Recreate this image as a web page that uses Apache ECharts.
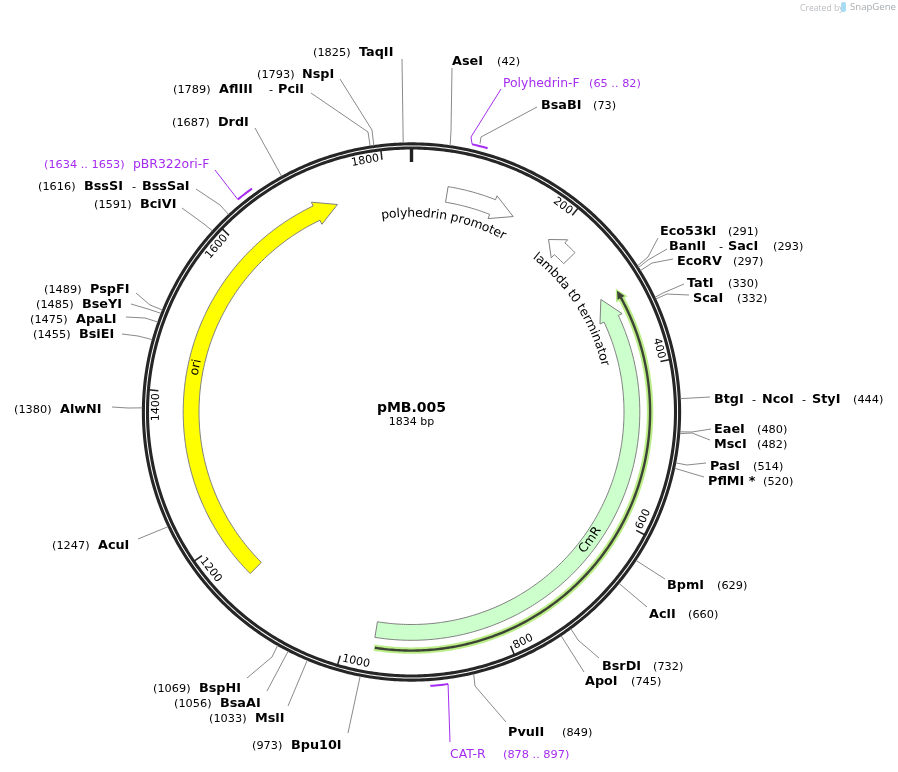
<!DOCTYPE html>
<html>
<head>
<meta charset="utf-8">
<title>pMB.005</title>
<script src="https://cdn.jsdelivr.net/npm/echarts@6/dist/echarts.min.js"></script>
<style>
html,body{margin:0;padding:0;background:#fff}
#main{width:898px;height:772px}
</style>
</head>
<body>
<div id="main"></div>
<script>
// plasmid data, all in bp
var plasmidName = 'pMB.005';
var plasmidSize = 1834;
var tickValues = [200, 400, 600, 800, 1000, 1200, 1400, 1600, 1800];

var siteNames = ['AseI', 'BsaBI', 'Eco53kI', 'BanII - SacI', 'EcoRV', 'TatI', 'ScaI', 'BtgI - NcoI - StyI',
  'EaeI', 'MscI', 'PasI', 'PflMI *', 'BpmI', 'AclI', 'BsrDI', 'ApoI', 'PvuII', 'Bpu10I', 'MslI', 'BsaAI',
  'BspHI', 'AcuI', 'AlwNI', 'BsiEI', 'ApaLI', 'BseYI', 'PspFI', 'BciVI', 'BssSI - BssSaI', 'DrdI',
  'AflIII - PciI', 'NspI', 'TaqII'];
var sitePositions = [42, 73, 291, 293, 297, 330, 332, 444, 480, 482, 514, 520, 629, 660, 732, 745, 849, 973,
  1033, 1056, 1069, 1247, 1380, 1455, 1475, 1485, 1489, 1591, 1616, 1687, 1789, 1793, 1825];

var primerNames = ['Polyhedrin-F', 'CAT-R', 'pBR322ori-F'];
var primerStarts = [65, 878, 1634];
var primerEnds = [82, 897, 1653];

// from = tail, back = where the head begins, to = tip
var featureNames = ['polyhedrin promoter', 'lambda t0 terminator', 'CmR', 'ori'];
var featureFrom = [47, 233, 964, 1146];
var featureBack = [110, 215, 331, 1704];
var featureTo = [140, 196, 302, 1734];

var orfFrom = 962;
var orfBack = 313;
var orfTo = 303;

// layout only below
var cx = 411.5, cy = 412;
var ringOuter = 268.1, ringInner = 264;
var bodyIn = 212.5, bodyOut = 228.3, headIn = 208, headOut = 232.5, laneMid = 220.3;
var orfR = 238.6;
var primerR = 274.5;
var featureFills = ['#ffffff', '#ffffff', '#ccffcc', '#ffff00'];
var featureLabelR = [198.5, 199, 220, 220];
var featureLabelAt = [49, 292, 640, 1435];
var purple = '#a52cf0';
var ink = '#000';
var lineGray = '#8a8a8a';
var textDy = 1;

// x of each name part, x of each dash, x of the number, y, optional knee, far end of the leader
var siteLayout = {
  'AseI': {x: [452], num: 497, y: 61, knee: [451, 131], end: [452, 68]},
  'BsaBI': {x: [541], num: 593, y: 105, startR: 277, knee: [481, 137], end: [537, 107]},
  'Eco53kI': {x: [660], num: 728, y: 231, knee: [648, 257], end: [658, 238]},
  'BanII - SacI': {x: [669, 728], dash: [719], num: 773, y: 246, knee: [648, 260], end: [667, 249]},
  'EcoRV': {x: [677], num: 733, y: 261, knee: [652, 263], end: [673, 259]},
  'TatI': {x: [687], num: 728, y: 283, knee: [663, 293], end: [684, 284]},
  'ScaI': {x: [693], num: 737, y: 298, knee: [667, 294], end: [689, 295]},
  'BtgI - NcoI - StyI': {x: [714, 762, 812], dash: [752, 802], num: 853, y: 399, end: [710, 397]},
  'EaeI': {x: [714], num: 757, y: 429, knee: [692, 432], end: [711, 429]},
  'MscI': {x: [714], num: 757, y: 444, knee: [692, 433], end: [710, 440]},
  'PasI': {x: [710], num: 753, y: 466, knee: [687, 465], end: [706, 463]},
  'PflMI *': {x: [708], num: 763, y: 481, end: [704, 477]},
  'BpmI': {x: [667], num: 717, y: 585, end: [665, 579]},
  'AclI': {x: [649], num: 688, y: 614, end: [647, 607]},
  'BsrDI': {x: [602], num: 653, y: 666, knee: [578, 640], end: [599, 658]},
  'ApoI': {x: [585], num: 631, y: 681, end: [584, 672]},
  'PvuII': {x: [508], num: 562, y: 732, knee: [475, 686], end: [506, 722]},
  'Bpu10I': {x: [291], num: 252, y: 745, end: [348, 733]},
  'MslI': {x: [255], num: 209, y: 718, end: [288, 706]},
  'BsaAI': {x: [220], num: 174, y: 703, end: [267, 691]},
  'BspHI': {x: [199], num: 153, y: 688, knee: [272, 657], end: [247, 678]},
  'AcuI': {x: [98], num: 52, y: 545, end: [138, 539]},
  'AlwNI': {x: [60], num: 14, y: 409, knee: [128, 408], end: [112, 407]},
  'BsiEI': {x: [79], num: 33, y: 334, knee: [138, 336], end: [122, 334]},
  'ApaLI': {x: [76], num: 30, y: 319, knee: [145, 318], end: [126, 317]},
  'BseYI': {x: [82], num: 36, y: 304, knee: [148, 309], end: [131, 304]},
  'PspFI': {x: [90], num: 44, y: 289, knee: [150, 305], end: [136, 293]},
  'BciVI': {x: [140], num: 94, y: 204, knee: [204, 224], end: [182, 208]},
  'BssSI - BssSaI': {x: [84, 142], dash: [132], num: 38, y: 186, knee: [220, 205], end: [196, 189]},
  'DrdI': {x: [218], num: 172, y: 122, end: [255, 128]},
  'AflIII - PciI': {x: [219, 278], dash: [269], num: 173, y: 89, knee: [368, 132], end: [311, 93]},
  'NspI': {x: [302], num: 257, y: 74, knee: [372, 130], end: [340, 79]},
  'TaqII': {x: [359], num: 313, y: 52, end: [402, 59]}
};
// leaders start at the primer bar's end given by `from`
var primerLayout = {
  'Polyhedrin-F': {x: 503, num: 589, y: 83, from: 65, knee: [471, 137], end: [501, 89]},
  'CAT-R': {x: 450, num: 503, y: 754, from: 878, end: [450, 742]},
  'pBR322ori-F': {x: 133, num: 44, y: 164, from: 1634, end: [215, 170]}
};

var nameFont = 'bold 12.8px "DejaVu Sans"';
var numFont = '11.3px "DejaVu Sans"';
var primerFont = '12.4px "DejaVu Sans"';
var arcFont = '12.4px "DejaVu Sans"';

function arc(api, r, a, b) {
  var pts = [];
  var n = Math.max(2, Math.ceil(Math.abs(b - a) / 3));
  for (var i = 0; i <= n; i++) {
    pts.push(api.coord([r, a + (b - a) * i / n]));
  }
  return pts;
}

function arrowShape(api, from, back, to, rIn, rOut, hIn, hOut, rMid) {
  return arc(api, rOut, from, back)
    .concat([api.coord([hOut, back]), api.coord([rMid, to]), api.coord([hIn, back])])
    .concat(arc(api, rIn, back, from));
}

function textEl(str, x, y, font, color, align) {
  return {
    type: 'text', x: x, y: y + textDy, silent: true,
    style: {text: str, x: 0, y: 0, font: font, fill: color, align: align || 'left', verticalAlign: 'middle'}
  };
}

function leader(pts, color, width) {
  return {type: 'polyline', silent: true, shape: {points: pts}, style: {stroke: color, lineWidth: width || 1, fill: null}};
}

var measureCtx = document.createElement('canvas').getContext('2d');

// one text element per glyph, tops facing outward on the upper arcs
function curvedText(api, str, r, midBp, font, flip) {
  measureCtx.font = font;
  var total = measureCtx.measureText(str).width;
  var bpPerPx = plasmidSize / (2 * Math.PI * r);
  var out = [];
  var run = 0;
  for (var i = 0; i < str.length; i++) {
    var w = measureCtx.measureText(str.charAt(i)).width;
    var off = (run + w / 2 - total / 2) * bpPerPx;
    var bp = midBp + (flip ? -off : off);
    var deg = bp / plasmidSize * 360;
    var p = api.coord([r, bp]);
    var el = textEl(str.charAt(i), p[0], p[1] - textDy, font, ink, 'center');
    el.rotation = -(flip ? deg - 180 : deg) * Math.PI / 180;
    out.push(el);
    run += w;
  }
  return out;
}

function renderRing(params, api) {
  return {
    type: 'group',
    children: [
      leader(arc(api, ringOuter, 0, plasmidSize), '#262626', 3.1),
      leader(arc(api, ringInner, 0, plasmidSize), '#262626', 3.1),
      leader([api.coord([ringInner, 0]), api.coord([250, 0])], '#222', 3.4)
    ]
  };
}

function renderTick(params, api) {
  var v = api.value(0);
  var labelBp = v - (v >= 1000 ? 19 : 15);
  var labelDeg = labelBp / plasmidSize * 360;
  var p = api.coord([255.5, labelBp]);
  var flip = labelDeg > 90 && labelDeg < 270;
  var t = textEl(String(v), p[0], p[1] - textDy, '11px "DejaVu Sans"', ink, 'center');
  t.rotation = -(flip ? labelDeg - 180 : labelDeg) * Math.PI / 180;
  return {
    type: 'group',
    children: [leader([api.coord([ringInner, v]), api.coord([254, v])], '#222', 1.5), t]
  };
}

function renderFeature(params, api) {
  var i = params.dataIndex;
  var name = featureNames[i];
  var shape = arrowShape(api, api.value(0), api.value(1), api.value(2), bodyIn, bodyOut, headIn, headOut, laneMid);
  var flip = name === 'CmR';
  var kids = [{
    type: 'polygon', silent: true, shape: {points: shape},
    style: {fill: featureFills[i], stroke: '#808080', lineWidth: 1}
  }];
  if (name === 'ori') {
    var p = api.coord([featureLabelR[i], featureLabelAt[i]]);
    var t = textEl(name, p[0], p[1] - textDy, arcFont, ink, 'center');
    t.rotation = -(featureLabelAt[i] / plasmidSize * 360) * Math.PI / 180;
    kids.push(t);
  } else {
    kids = kids.concat(curvedText(api, name, featureLabelR[i], featureLabelAt[i], arcFont, flip));
  }
  return {type: 'group', children: kids};
}

function renderOrf(params, api) {
  var from = api.value(0), back = api.value(1), to = api.value(2);
  var glow = arrowShape(api, from + 1, back + 2, to - 3, orfR - 3.2, orfR + 3.2, orfR - 6.5, orfR + 6.5, orfR);
  var core = arrowShape(api, from, back, to, orfR - 1.2, orfR + 1.2, orfR - 4, orfR + 4, orfR);
  return {
    type: 'group',
    children: [
      {type: 'polygon', silent: true, shape: {points: glow}, style: {fill: '#bcee88', stroke: null}},
      {type: 'polygon', silent: true, shape: {points: core}, style: {fill: '#3d4436', stroke: null}}
    ]
  };
}

function renderSite(params, api) {
  var name = siteNames[params.dataIndex];
  var bp = api.value(0);
  var lay = siteLayout[name];
  var pts = [api.coord([lay.startR || ringOuter + 1, bp])];
  if (lay.knee) pts.push(lay.knee);
  pts.push(lay.end);
  var kids = [leader(pts, lineGray, 1)];
  name.split(' - ').forEach(function (part, k) {
    kids.push(textEl(part, lay.x[k], lay.y, nameFont, ink));
  });
  (lay.dash || []).forEach(function (x) {
    kids.push(textEl('-', x, lay.y, numFont, ink));
  });
  kids.push(textEl('(' + bp + ')', lay.num, lay.y, numFont, ink));
  return {type: 'group', children: kids};
}

function renderPrimer(params, api) {
  var name = primerNames[params.dataIndex];
  var a = api.value(0), b = api.value(1);
  var lay = primerLayout[name];
  var pts = [api.coord([primerR, lay.from])];
  if (lay.knee) pts.push(lay.knee);
  pts.push(lay.end);
  return {
    type: 'group',
    children: [
      leader(arc(api, primerR, a, b), purple, 2),
      leader(pts, purple, 1),
      textEl(name, lay.x, lay.y, primerFont, purple),
      textEl('(' + a + ' .. ' + b + ')', lay.num, lay.y, numFont, purple)
    ]
  };
}

function zipRows() {
  var cols = Array.prototype.slice.call(arguments);
  return cols[0].map(function (_, i) {
    return cols.map(function (c) { return c[i]; });
  });
}

var myChart = echarts.init(document.getElementById('main'), null, {renderer: 'canvas'});
var option = {
  animation: false,
  backgroundColor: '#fff',
  title: {
    text: plasmidName,
    subtext: plasmidSize + ' bp',
    left: cx, top: cy - 11, textAlign: 'center', itemGap: 2, padding: 0,
    textStyle: {fontFamily: 'DejaVu Sans', fontSize: 14, fontWeight: 'bold', color: '#000'},
    subtextStyle: {fontFamily: 'DejaVu Sans', fontSize: 11, color: '#000'}
  },
  polar: {center: [cx, cy], radius: 400},
  radiusAxis: {type: 'value', min: 0, max: 400, show: false},
  angleAxis: {type: 'value', min: 0, max: plasmidSize, startAngle: 90, clockwise: true, show: false},
  graphic: [
    {type: 'text', left: 800, top: 4, style: {text: 'Created by', font: '8.6px "Open Sans"', fill: '#b8bcc0'}},
    {type: 'text', left: 850, top: 2, style: {text: 'SnapGene', font: '9.6px "Open Sans"', fill: '#a8acb0'}},
    {type: 'rect', left: 841, top: 2, shape: {width: 5, height: 10, r: 2}, style: {fill: '#a8dcf4'}}
  ],
  series: [
    {type: 'custom', coordinateSystem: 'polar', renderItem: renderRing, data: [[plasmidSize]], silent: true, z: 3},
    {type: 'custom', coordinateSystem: 'polar', renderItem: renderTick, data: zipRows(tickValues), silent: true, z: 4},
    {type: 'custom', coordinateSystem: 'polar', renderItem: renderFeature, data: zipRows(featureFrom, featureBack, featureTo), silent: true, z: 5},
    {type: 'custom', coordinateSystem: 'polar', renderItem: renderOrf, data: [[orfFrom, orfBack, orfTo]], silent: true, z: 5},
    {type: 'custom', coordinateSystem: 'polar', renderItem: renderSite, data: zipRows(sitePositions), silent: true, z: 6},
    {type: 'custom', coordinateSystem: 'polar', renderItem: renderPrimer, data: zipRows(primerStarts, primerEnds), silent: true, z: 6}
  ]
};
myChart.setOption(option);
</script>
</body>
</html>
